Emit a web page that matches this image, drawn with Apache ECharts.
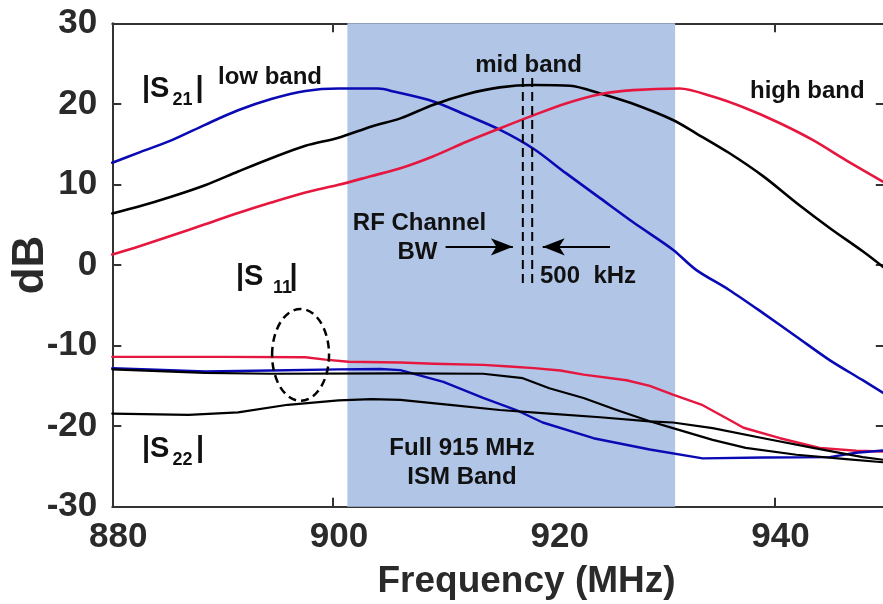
<!DOCTYPE html>
<html>
<head>
<meta charset="utf-8">
<script src="https://cdn.jsdelivr.net/npm/echarts@6/dist/echarts.min.js"></script>
<style>
  html, body { margin: 0; padding: 0; background: #fff; }
  #chart { width: 883px; height: 604px; }
</style>
</head>
<body>
<div id="chart"></div>
<script>
// ---- Measured S-parameters (frequency in MHz, magnitude in dB) ----

// |S21| low band filter
const s21LowFreq = [880, 882.4, 885.4, 888.4, 891.4, 894.4, 897.5, 900.5, 904.1, 905.6, 909.1, 912.1, 915.1, 918.2, 921.1, 924.2, 927.2, 930.8, 932.9, 935.9, 939.0, 942.0, 945.0, 948.0, 950];
const s21LowDb   = [12.7, 13.95, 15.5, 17.4, 19.2, 20.6, 21.6, 21.9, 21.9, 21.5, 20.3, 18.6, 16.8, 14.4, 11.4, 8.3, 5.3, 1.9, -0.6, -3.1, -6.0, -8.9, -11.8, -14.3, -16.0];

// |S21| mid band filter
const s21MidFreq = [880, 882.4, 885.4, 888.4, 891.4, 894.4, 897.5, 900.5, 903.5, 906.1, 909.1, 912.1, 915.1, 918.2, 921.5, 924.2, 927.0, 930.8, 932.9, 935.9, 939.0, 942.0, 945.0, 948.0, 950];
const s21MidDb   = [6.4, 7.25, 8.5, 9.9, 11.6, 13.25, 14.8, 15.8, 17.2, 18.2, 19.9, 21.2, 22.05, 22.35, 22.25, 21.3, 20.1, 18.0, 16.35, 13.9, 11.0, 7.7, 4.6, 1.7, -0.4];

// |S21| high band filter
const s21HighFreq = [880, 882.4, 885.4, 888.4, 891.4, 894.4, 897.5, 900.5, 903.5, 906.1, 909.1, 912.1, 915.1, 918.2, 921.1, 924.2, 927.2, 931.4, 934.4, 937.4, 940.5, 943.5, 946.5, 950];
const s21HighDb   = [1.3, 2.3, 3.65, 5.05, 6.45, 7.75, 9.0, 9.95, 11.05, 12.0, 13.5, 15.3, 16.95, 18.6, 20.05, 21.2, 21.7, 21.9, 20.9, 19.45, 17.6, 15.5, 13.0, 10.2];

// |S11| high band
const s11HighFreq = [880, 890, 897.5, 899.3, 901.4, 906.1, 909.1, 913.6, 916.0, 918.2, 920.6, 922.7, 926.6, 928.7, 930.8, 933.5, 935.9, 937.2, 940.5, 944.1, 947.4, 950];
const s11HighDb   = [-11.4, -11.4, -11.45, -11.75, -12.0, -12.1, -12.25, -12.4, -12.6, -12.8, -13.1, -13.6, -14.3, -15.0, -16.1, -17.4, -19.2, -20.2, -21.5, -22.7, -23.05, -23.15];

// |S11| low band
const s11LowFreq = [880, 884, 888.4, 894.4, 900.5, 904.3, 906.1, 910.0, 913.6, 916.6, 919.0, 923.6, 928.7, 933.5, 939.0, 945.0, 947.4, 950];
const s11LowDb   = [-12.8, -13.0, -13.2, -13.1, -12.95, -12.9, -13.05, -14.5, -16.5, -18.0, -19.55, -21.5, -22.9, -24.0, -23.9, -23.85, -23.3, -23.0];

// |S11| mid band
const s11MidFreq = [880, 888.4, 894.4, 906.1, 913.6, 917.2, 919.6, 922.7, 925.7, 928.7, 930.8, 934.4, 937.4, 942.0, 946.5, 950];
const s11MidDb   = [-12.95, -13.4, -13.5, -13.45, -13.5, -14.05, -15.3, -16.5, -18.0, -19.4, -20.25, -21.7, -22.7, -23.55, -24.1, -24.5];

// |S22|
const s22Freq = [880, 886.9, 891.4, 895.9, 900.5, 903.5, 906.1, 910.6, 915.1, 919.6, 924.2, 928.7, 930.8, 934.4, 939.0, 943.5, 948.0, 950];
const s22Db   = [-18.45, -18.6, -18.3, -17.35, -16.8, -16.65, -16.75, -17.35, -18.0, -18.45, -18.9, -19.4, -19.55, -20.25, -21.5, -22.7, -23.85, -24.2];

// Full 915 MHz ISM band (shaded) and the 500 kHz RF channel edges
const ismBand = [901.3, 931.0];
const channelEdges = [917.2, 918.05];

// Axis ranges and ticks
const freqTicks = [880, 900, 920, 940];
const dbTicks = [-30, -20, -10, 0, 10, 20, 30];

// ---- Annotation geometry (data coordinates) ----
const annot = {
  channelTop: 23.2, channelBottom: -2.5,
  arrowY: 2.25,
  arrowLeft: [910.2, 916.3],
  arrowRight: [925.1, 919.0],
  ellipseCenter: [897.06, -11.15],
  ellipseHalf: [2.58, 5.7]
};

const FONT = '"Liberation Sans", Arial, Helvetica, sans-serif';
const BLUE = '#0a0ab4';
const RED = '#e6173f';
const BLACK = '#000000';
const AXIS = '#333333';
const TXT = '#2a2a2a';

const zip = (xs, ys) => xs.map((x, i) => [x, ys[i]]);

function curve(name, xs, ys, color, width, smooth) {
  return {
    name, type: 'line', data: zip(xs, ys), showSymbol: false, symbol: 'none',
    smooth: smooth, z: 3, silent: true,
    lineStyle: { color, width, join: 'round', cap: 'round' }
  };
}

const chart = echarts.init(document.getElementById('chart'), null, { renderer: 'canvas' });

const axisLineStyle = { show: true, onZero: false, lineStyle: { color: AXIS, width: 2 } };
const tickStyle = { show: true, inside: true, length: 9, lineStyle: { color: AXIS, width: 2 } };

const option = {
  animation: false,
  backgroundColor: '#ffffff',
  grid: {
    left: 112.3, top: 23.3, width: 772.5, height: 483.4,
    containLabel: false, outerBoundsMode: 'none'
  },
  xAxis: [
    {
      type: 'value', min: freqTicks[0], max: 950, interval: 20,
      axisLine: axisLineStyle, axisTick: tickStyle, splitLine: { show: false },
      axisLabel: {
        show: true, margin: 13, color: TXT, fontSize: 35, fontWeight: 'bold', fontFamily: FONT,
        showMaxLabel: false, padding: [0, 0, 0, 12],
        formatter: v => (freqTicks.includes(v) ? String(v) : '')
      },
      name: 'Frequency (MHz)', nameLocation: 'middle', nameGap: 57,
      nameTextStyle: { color: TXT, fontSize: 37, fontWeight: 'bold', fontFamily: FONT, padding: [0, 0, 0, 56] }
    },
    {
      type: 'value', position: 'top', min: freqTicks[0], max: 950, interval: 20,
      axisLine: axisLineStyle, axisTick: tickStyle, splitLine: { show: false },
      axisLabel: { show: false }
    }
  ],
  yAxis: [
    {
      type: 'value', min: dbTicks[0], max: dbTicks[dbTicks.length - 1], interval: 10,
      axisLine: axisLineStyle, axisTick: tickStyle, splitLine: { show: false },
      axisLabel: { show: true, margin: 15, color: TXT, fontSize: 35, fontWeight: 'bold', fontFamily: FONT },
      name: 'dB', nameLocation: 'middle', nameGap: 59, nameRotate: 90, nameMoveOverlap: false,
      nameTextStyle: { color: TXT, fontSize: 44, fontWeight: 'bold', fontFamily: FONT }
    },
    {
      type: 'value', position: 'right', min: dbTicks[0], max: dbTicks[dbTicks.length - 1], interval: 10,
      axisLine: axisLineStyle, axisTick: tickStyle, splitLine: { show: false },
      axisLabel: { show: false }
    }
  ],
  series: [
    // ISM band shading
    {
      name: 'ISM band', type: 'line', data: [], z: 1, silent: true,
      markArea: {
        silent: true,
        itemStyle: { color: '#b1c5e7', opacity: 1 },
        data: [[{ xAxis: ismBand[0] }, { xAxis: ismBand[1] }]]
      }
    },
    curve('|S21| low', s21LowFreq, s21LowDb, BLUE, 2.6, 0.3),
    curve('|S21| mid', s21MidFreq, s21MidDb, BLACK, 2.6, 0.3),
    curve('|S21| high', s21HighFreq, s21HighDb, RED, 2.6, 0.3),
    curve('|S11| high', s11HighFreq, s11HighDb, RED, 2.4, false),
    curve('|S11| low', s11LowFreq, s11LowDb, BLUE, 2.4, false),
    curve('|S11| mid', s11MidFreq, s11MidDb, BLACK, 2.2, false),
    curve('|S22|', s22Freq, s22Db, BLACK, 2.2, false),
    // RF channel bandwidth edges
    ...channelEdges.map((f, i) => ({
      name: 'channel edge ' + i, type: 'line', showSymbol: false, symbol: 'none', z: 4, silent: true,
      data: [[f, annot.channelTop], [f, annot.channelBottom]],
      lineStyle: { color: BLACK, width: 2, type: [9, 5] }
    })),
    // Arrows pointing at the channel
    {
      name: 'arrows', type: 'line', data: [], z: 4, silent: true,
      markLine: {
        silent: true, symbol: ['none', 'arrow'], symbolSize: [13, 22],
        label: { show: false },
        lineStyle: { color: BLACK, width: 2, type: 'solid' },
        data: [
          [{ coord: [annot.arrowLeft[0], annot.arrowY] }, { coord: [annot.arrowLeft[1], annot.arrowY] }],
          [{ coord: [annot.arrowRight[0], annot.arrowY] }, { coord: [annot.arrowRight[1], annot.arrowY] }]
        ]
      }
    }
  ]
};

chart.setOption(option);

// ---- Text annotations and the dashed |S11| marker ----
const texts = [
  { t: '|S', x: 142, y: 89, s: 29 },
  { t: '21', x: 172.5, y: 100.5, s: 18 },
  { t: '|', x: 195.5, y: 89, s: 29 },
  { t: 'low band', x: 218, y: 77, s: 24 },
  { t: 'mid band', x: 528.5, y: 65, s: 24, a: 'center' },
  { t: 'high band', x: 750, y: 91, s: 24 },
  { t: 'RF Channel', x: 419.5, y: 223.5, s: 24, a: 'center' },
  { t: 'BW', x: 417.5, y: 252, s: 24, a: 'center' },
  { t: '500  kHz', x: 540, y: 276, s: 24 },
  { t: '|S', x: 236, y: 277, s: 29 },
  { t: '11', x: 273, y: 288, s: 18 },
  { t: '|', x: 289.5, y: 277, s: 29 },
  { t: '|S', x: 142, y: 448.5, s: 29 },
  { t: '22', x: 172.5, y: 460.5, s: 18 },
  { t: '|', x: 196, y: 448.5, s: 29 },
  { t: 'Full 915 MHz', x: 462, y: 448, s: 24, a: 'center' },
  { t: 'ISM Band', x: 462, y: 477, s: 24, a: 'center' }
];

const c = chart.convertToPixel({ gridIndex: 0 }, annot.ellipseCenter);
const e = chart.convertToPixel({ gridIndex: 0 }, [
  annot.ellipseCenter[0] + annot.ellipseHalf[0],
  annot.ellipseCenter[1] + annot.ellipseHalf[1]
]);

const graphics = texts.map(d => ({
  type: 'text', x: d.x, y: d.y, z: 10, silent: true,
  style: {
    text: d.t, fill: '#111111',
    font: 'bold ' + d.s + 'px ' + FONT,
    align: d.a || 'left', verticalAlign: 'middle'
  }
}));

graphics.push({
  type: 'ellipse', z: 10, silent: true,
  shape: { cx: c[0], cy: c[1], rx: Math.abs(e[0] - c[0]), ry: Math.abs(c[1] - e[1]) },
  style: { fill: 'none', stroke: '#000', lineWidth: 2.5, lineDash: [8, 5] }
});

chart.setOption({ graphic: graphics });
</script>
</body>
</html>
